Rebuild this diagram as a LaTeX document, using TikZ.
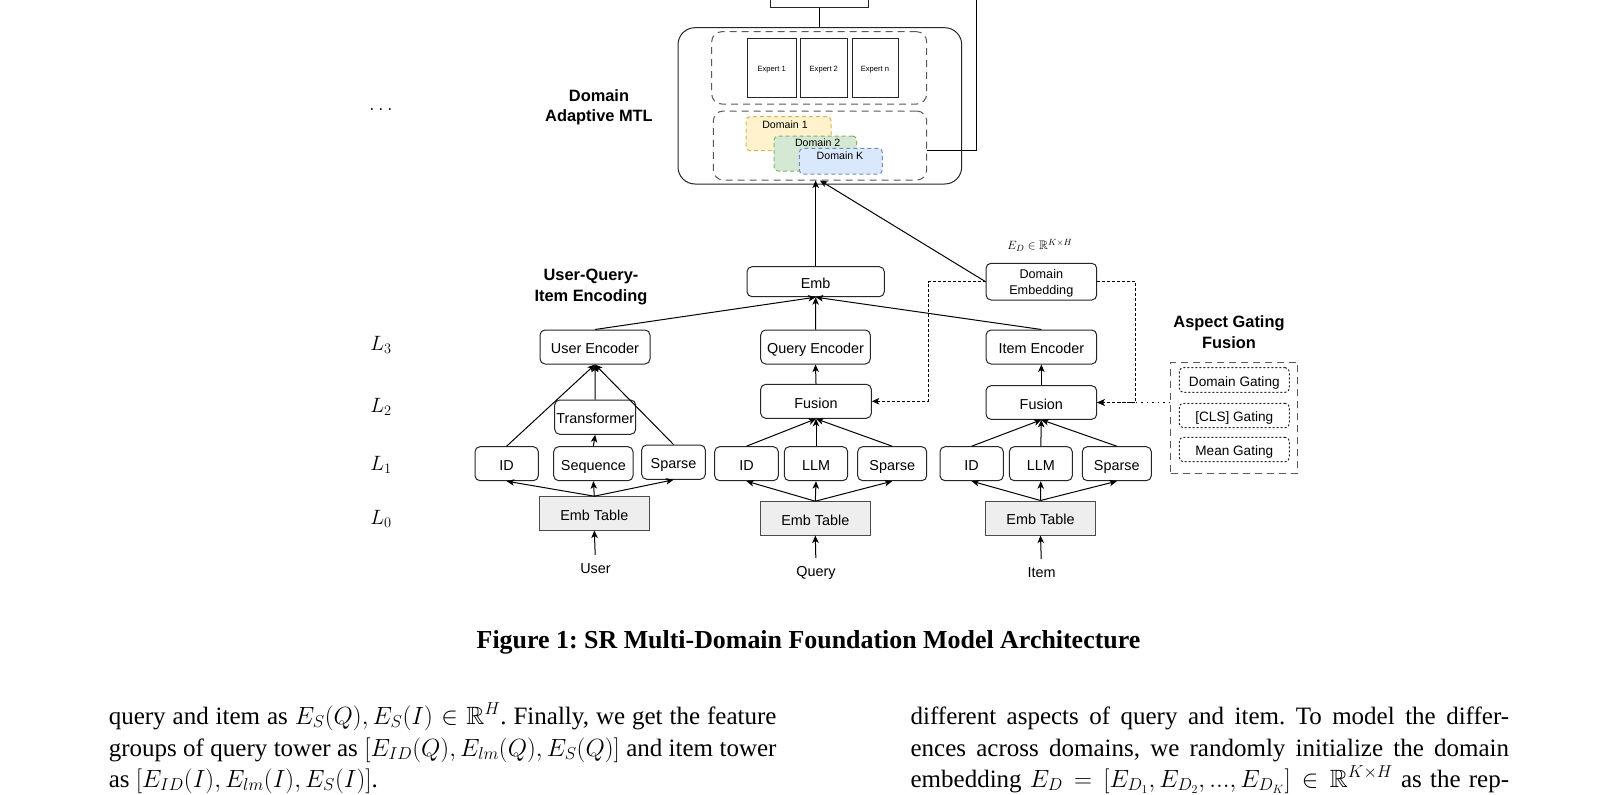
\documentclass[tikz,border=0pt]{standalone}
\usepackage{amsmath,amssymb}
\usepackage{fontspec}
\setmainfont{Liberation Serif}
\newfontfamily\sansf{Liberation Sans}
\usetikzlibrary{arrows.meta,calc}
\definecolor{dyel}{HTML}{FFF2CC}\definecolor{dyelb}{HTML}{D6B656}
\definecolor{dgrn}{HTML}{D5E8D4}\definecolor{dgrnb}{HTML}{82B366}
\definecolor{dblu}{HTML}{DAE8FC}\definecolor{dblub}{HTML}{6C8EBF}
\definecolor{tblfill}{HTML}{EEEEEE}
\frenchspacing
\newcommand\sfs[2]{\sansf\fontsize{#1}{#2}\selectfont}
\newcommand\mybox[7]{%
 \pgfmathsetmacro\mycx{(#2+#4)/2}\pgfmathsetmacro\mycy{(#3+#5)/2}%
 \pgfmathsetmacro\mybw{#4-#2}\pgfmathsetmacro\mybh{#5-#3}%
 \node[#6, minimum width=\mybw pt, minimum height=\mybh pt] (#1) at (\mycx,\mycy) {#7};}
\tikzset{
 rbox/.style={draw=black!85, rounded corners=5pt, inner sep=0pt, font=\sfs{14.4}{17}, text height=13.5pt, text depth=0pt},
 sqbox/.style={draw=black!85, inner sep=0pt},
 tblbox/.style={draw=black!70, fill=tblfill, inner sep=0pt, font=\sfs{14.4}{17}, text height=13.5pt, text depth=0pt},
 outd/.style={draw=black!65, dash pattern=on 7pt off 5pt, inner sep=0pt},
 dbox/.style={dash pattern=on 4pt off 3pt, rounded corners=4pt, inner sep=0pt},
 gbox/.style={draw=black!85, dash pattern=on 2pt off 2pt, rounded corners=4pt, inner sep=0pt, font=\sfs{13.6}{16}, text height=12.5pt, text depth=0pt},
 arr/.style={-{Stealth[length=7.5pt,width=6.5pt,inset=2pt]}},
 dconn/.style={dash pattern=on 3pt off 2pt},
 dotc/.style={line width=1.5pt, dash pattern=on 1.5pt off 4pt},
 lbl/.style={inner sep=0pt, font=\sfs{14.4}{17}},
 dlbl/.style={inner sep=0pt, font=\sfs{10.6}{12}},
 blbl/.style={inner sep=0pt, align=center, font=\sfs{16.4}{20.7}\bfseries},
 llbl/.style={inner sep=0pt, font=\fontsize{20}{24}\selectfont},
 body/.style={inner sep=0pt, anchor=base west, font=\fontsize{25}{30}\selectfont}
}
\begin{document}
\begin{tikzpicture}[x=1pt,y=-1pt,line width=1pt]
\useasboundingbox (0,0) rectangle (1618,795);
\fill[white] (0,0) rectangle (1618,795);

% ---------- Domain adaptive MTL ----------
\mybox{topb}{770}{-20}{868}{7}{sqbox}{}
\mybox{mtl}{678}{27.7}{961.7}{184}{draw=black!85, rounded corners=17pt, inner sep=0pt}{}
\mybox{expb}{711.7}{31.7}{926.7}{104}{outd, rounded corners=10pt}{}
\mybox{e1}{747.3}{38.7}{796}{97.3}{sqbox, font=\sfs{7.6}{9}, text height=7pt, text depth=0pt}{Expert 1}
\mybox{e2}{800.3}{38.7}{847.3}{97.3}{sqbox, font=\sfs{7.6}{9}, text height=7pt, text depth=0pt}{Expert 2}
\mybox{en}{852}{38.7}{898}{97.3}{sqbox, font=\sfs{7.6}{9}, text height=7pt, text depth=0pt}{Expert n}
\mybox{domb}{713.3}{111}{926.7}{180}{outd, rounded corners=10pt}{}
\mybox{d1}{746}{116.7}{831}{150.7}{dbox, fill=dyel, draw=dyelb}{}
\node[dlbl] (d1t) at (785,125) {Domain 1};
\mybox{d2}{774}{136}{856.7}{171}{dbox, fill=dgrn, draw=dgrnb}{}
\node[dlbl] (d2t) at (817.7,143) {Domain 2};
\mybox{dk}{799.3}{148.3}{882.3}{174}{dbox, fill=dblu, draw=dblub}{}
\node[dlbl] (dkt) at (840,156) {Domain K};

\draw (topb.south) -- (topb.south |- mtl.north);
\coordinate (rc) at (976,150);
\coordinate (rtop) at (976,-5);
\draw (domb.east |- rc) -- (rc) -- (rtop);

\node[blbl] (mtlL) at (599,107.2) {Domain\\Adaptive MTL};
\node[llbl, anchor=base] (dots) at (381,110) {$\ldots$};

% ---------- level labels ----------
\node[llbl] (L3) at (381,344.5) {$L_3$};
\node[llbl] (L2) at (381,406.5) {$L_2$};
\node[llbl] (L1) at (381,465) {$L_1$};
\node[llbl] (L0) at (381,518.5) {$L_0$};

% ---------- user tower ----------
\node[blbl] (uqiL) at (591,286.7) {User-Query-\\Item Encoding};
\mybox{uEnc}{540}{330}{650}{364}{rbox}{User Encoder}
\mybox{trans}{554.7}{400}{635.7}{434.3}{rbox}{Transformer}
\mybox{uID}{475}{446.7}{538.3}{480.7}{rbox}{ID}
\mybox{uSeq}{553.7}{446.7}{633}{480.7}{rbox}{Sequence}
\mybox{uSp}{641.7}{445}{705.3}{479.3}{rbox}{Sparse}
\mybox{uTab}{539.3}{496.7}{649.3}{530}{tblbox}{Emb Table}
\node[lbl] (uIn) at (595.5,568.3) {User};

% ---------- query tower ----------
\mybox{emb}{747}{266.7}{884.3}{296.7}{rbox}{Emb}
\mybox{qEnc}{760.7}{330}{870.3}{364}{rbox}{Query Encoder}
\mybox{qFus}{760.7}{384.3}{871.3}{418.3}{rbox}{Fusion}
\mybox{qID}{714.7}{446.7}{778.3}{480.7}{rbox}{ID}
\mybox{qLLM}{784.3}{446.7}{847.7}{480.7}{rbox}{LLM}
\mybox{qSp}{857.7}{446.7}{926.7}{480.7}{rbox}{Sparse}
\mybox{qTab}{760.3}{501.7}{870.3}{535}{tblbox}{Emb Table}
\node[lbl] (qIn) at (816,573) {Query};

% ---------- item tower ----------
\node[inner sep=0pt, font=\fontsize{12.3}{14}\selectfont] (edl) at (1040,245.5) {$E_D \in \mathbb{R}^{K\times H}$};
\mybox{domEmb}{986}{263.3}{1096.7}{300}{draw=black!85, rounded corners=5pt, inner sep=0pt}{}
\node[inner sep=0pt, align=center, font=\sfs{12.65}{15.7}] (domEmbT) at (1041.3,283) {Domain\\Embedding};
\mybox{iEnc}{986}{330}{1096.7}{364}{rbox}{Item Encoder}
\mybox{iFus}{986}{385.7}{1096.7}{419.3}{rbox}{Fusion}
\mybox{iID}{940}{446.7}{1003.3}{480.7}{rbox}{ID}
\mybox{iLLM}{1009.3}{446.7}{1072.3}{480.7}{rbox}{LLM}
\mybox{iSp}{1082.3}{446.7}{1151.3}{480.7}{rbox}{Sparse}
\mybox{iTab}{985.7}{501}{1095.3}{535}{tblbox}{Emb Table}
\node[lbl] (iIn) at (1041.5,572.7) {Item};

% ---------- aspect gating ----------
\node[blbl] (agfL) at (1229,332) {Aspect Gating\\Fusion};
\mybox{aspb}{1170.7}{362.3}{1297.7}{473.3}{outd}{}
\mybox{dG}{1179.3}{367.7}{1289.3}{392.3}{gbox}{Domain Gating}
\mybox{cG}{1179.3}{403.3}{1289.3}{427.7}{gbox}{[CLS] Gating}
\mybox{mG}{1179.3}{437.3}{1289.3}{461.7}{gbox}{Mean Gating}

% ---------- connectors: user ----------
\draw[arr, shorten <=8pt] (uIn.north) -- (uTab.south);
\draw[arr] (uTab.north) -- (uID.south);
\draw[arr] (uTab.north) -- (uSeq.south);
\draw[arr] (uTab.north) -- (uSp.south);
\draw[arr] (uSeq.north) -- (trans.south);
\draw[arr] (uID.north) -- (uEnc.south);
\draw[arr] (trans.north) -- (uEnc.south);
\draw[arr] (uSp.north) -- (uEnc.south);
\draw[arr] (uEnc.north) -- (emb.south);

% ---------- connectors: query ----------
\draw[arr, shorten <=8pt] (qIn.north) -- (qTab.south);
\draw[arr] (qTab.north) -- (qID.south);
\draw[arr] (qTab.north) -- (qLLM.south);
\draw[arr] (qTab.north) -- (qSp.south);
\draw[arr] (qID.north) -- (qFus.south);
\draw[arr] (qLLM.north) -- (qFus.south);
\draw[arr] (qSp.north) -- (qFus.south);
\draw[arr] (qFus.north) -- (qEnc.south);
\draw[arr] (qEnc.north) -- (emb.south);

% ---------- connectors: item ----------
\draw[arr, shorten <=8pt] (iIn.north) -- (iTab.south);
\draw[arr] (iTab.north) -- (iID.south);
\draw[arr] (iTab.north) -- (iLLM.south);
\draw[arr] (iTab.north) -- (iSp.south);
\draw[arr] (iID.north) -- (iFus.south);
\draw[arr] (iLLM.north) -- (iFus.south);
\draw[arr] (iSp.north) -- (iFus.south);
\draw[arr] (iFus.north) -- (iEnc.south);
\draw[arr] (iEnc.north) -- (emb.south);

% ---------- connectors: to MTL ----------
\draw[arr] (emb.north) -- (emb.north |- domb.south);
\draw[arr] (domEmb.west) -- (domb.south);

% ---------- dashed domain embedding feeds ----------
\coordinate (qj) at (928.3,0);
\coordinate (ij) at (1135.7,0);
\draw[dconn, arr] (domEmb.west) -| (qj |- qFus.east) -- (qFus.east);
\draw[dconn, arr] (domEmb.east) -| (ij |- iFus.east) -- (iFus.east);
\draw[dotc, arr] (aspb.west |- iFus.east) -- (iFus.east);

% ---------- caption ----------
\node[inner sep=0pt, anchor=base] (cap) at (808.5,648) {\resizebox{663.6pt}{!}{\fontsize{24}{29}\selectfont\bfseries Figure 1: SR Multi-Domain Foundation Model Architecture}};

% ---------- body text ----------
\node[body] (l1) at (108.3,724) {\makebox[667.7pt][s]{query and item as $E_S(Q), E_S(I) \in \mathbb{R}^H$. Finally, we get the feature}};
\node[body] (l2) at (108.3,756) {\makebox[667.7pt][s]{groups of query tower as $[E_{ID}(Q), E_{lm}(Q), E_S(Q)]$ and item tower}};
\node[body] (l3) at (108.3,787) {as $[E_{ID}(I), E_{lm}(I), E_S(I)]$.};
\node[body] (r1) at (910.1,724) {\makebox[598.5pt][s]{different aspects of query and item. To model the differ-}};
\node[body] (r2) at (910.1,756) {\makebox[598.5pt][s]{ences across domains, we randomly initialize the domain}};
\node[body] (r3) at (910.1,787) {\makebox[598.5pt][s]{embedding $E_D = [E_{D_1}, E_{D_2}, ..., E_{D_K}] \in \mathbb{R}^{K\times H}$ as the rep-}};
\end{tikzpicture}
\end{document}
